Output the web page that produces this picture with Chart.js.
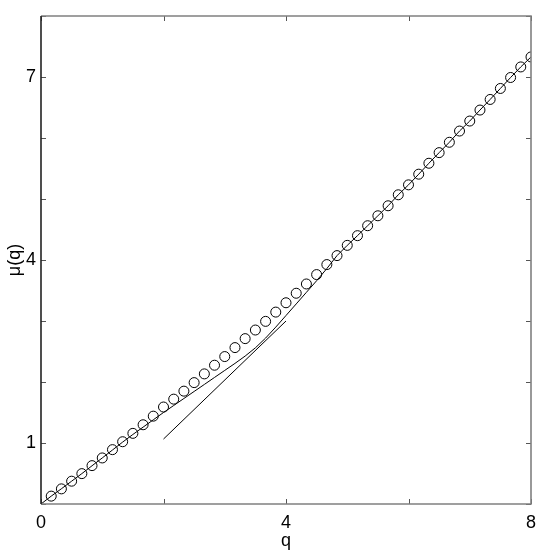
<!DOCTYPE html>
<html>
<head>
<meta charset="utf-8">
<script src="https://cdn.jsdelivr.net/npm/chart.js@4/dist/chart.umd.min.js"></script>
<style>
  html,body{margin:0;padding:0;background:#fff;}
  #wrap{width:545px;height:553px;}
</style>
</head>
<body>
<div id="wrap"><canvas id="chart" width="545" height="553"></canvas></div>
<script>
// ---- DATA ----
const circleQ = [0.167,0.333,0.5,0.667,0.833,1,1.167,1.333,1.5,1.667,1.833,2,2.167,2.333,2.5,2.667,2.833,3,
  3.167,3.333,3.5,3.667,3.833,4,4.167,4.333,4.5,4.667,4.833,5,5.167,5.333,5.5,5.667,5.833,6,
  6.167,6.333,6.5,6.667,6.833,7,7.167,7.333,7.5,7.667,7.833,8];
const circleMu = [0.129,0.248,0.374,0.498,0.629,0.755,0.891,1.021,1.158,1.299,1.44,1.59,1.719,1.85,1.99,2.133,2.275,2.417,
  2.564,2.711,2.852,2.994,3.146,3.299,3.455,3.607,3.761,3.925,4.072,4.24,4.399,4.562,4.725,4.889,5.069,5.232,
  5.407,5.586,5.76,5.93,6.114,6.278,6.458,6.632,6.812,6.992,7.165,7.329];

const fitQ = [0,0.167,0.333,0.5,0.667,0.833,1,1.167,1.333,1.5,1.667,1.833,2,2.167,2.333,2.5,2.667,2.833,3,
  3.167,3.333,3.5,3.667,3.833,4,4.167,4.333,4.5,4.667,4.833,5,5.167,5.333,5.5,5.667,5.833,6,
  6.167,6.333,6.5,6.667,6.833,7,7.167,7.333,7.5,7.667,7.833,8];
const fitMu = [0,0.129,0.25,0.374,0.498,0.627,0.755,0.885,1.015,1.14,1.26,1.38,1.5,1.615,1.73,1.845,1.96,2.075,2.19,
  2.305,2.425,2.56,2.72,2.9,3.09,3.28,3.47,3.66,3.86,4.072,4.24,4.399,4.562,4.725,4.889,5.069,5.232,
  5.407,5.586,5.76,5.93,6.114,6.278,6.458,6.632,6.812,6.992,7.165,7.329];

const slopeQ = [2,4];
const slopeMu = [1.065,3.0];

const xLabels = [0,4,8];
const yLabels = [1,4,7];

const FONT = "'Liberation Sans', Arial, Helvetica, sans-serif";

function pts(xs, ys){ return xs.map((x,i)=>({x:x,y:ys[i]})); }

// ---- FRAME + INNER TICKS ----
const framePlugin = {
  id:'frame',
  afterDraw(chart){
    const {ctx, chartArea:a, scales:{x,y}} = chart;
    const len = 5;
    ctx.save();
    ctx.lineWidth = 1;
    ctx.strokeStyle = '#555';
    ctx.beginPath();
    x.ticks.forEach(t=>{
      const px = Math.round(x.getPixelForValue(t.value))+0.5;
      ctx.moveTo(px,a.bottom); ctx.lineTo(px,a.bottom-len);
      ctx.moveTo(px,a.top); ctx.lineTo(px,a.top+len);
    });
    y.ticks.forEach(t=>{
      const py = Math.round(y.getPixelForValue(t.value))+0.5;
      ctx.moveTo(a.left,py); ctx.lineTo(a.left+len,py);
      ctx.moveTo(a.right,py); ctx.lineTo(a.right-len,py);
    });
    ctx.stroke();

    ctx.lineWidth = 1.6;
    ctx.strokeStyle = '#808080';
    ctx.beginPath();
    ctx.moveTo(a.left,a.top); ctx.lineTo(a.right,a.top); ctx.lineTo(a.right,a.bottom); ctx.lineTo(a.left,a.bottom);
    ctx.stroke();
    ctx.strokeStyle = '#222';
    ctx.beginPath();
    ctx.moveTo(a.left,a.top); ctx.lineTo(a.left,a.bottom);
    ctx.stroke();
    ctx.restore();
  }
};

new Chart(document.getElementById('chart').getContext('2d'), {
  type:'line',
  data:{
    datasets:[
      {
        label:'fit',
        data:pts(fitQ,fitMu),
        borderColor:'#000',
        borderWidth:1,
        pointRadius:0,
        fill:false,
        tension:0
      },
      {
        label:'slope',
        data:pts(slopeQ,slopeMu),
        borderColor:'#000',
        borderWidth:1,
        pointRadius:0,
        fill:false
      },
      {
        label:'mu',
        data:pts(circleQ,circleMu),
        showLine:false,
        pointStyle:'circle',
        pointRadius:5,
        pointBorderWidth:1,
        pointBorderColor:'#000',
        pointBackgroundColor:'rgba(0,0,0,0)'
      }
    ]
  },
  options:{
    responsive:false,
    animation:false,
    devicePixelRatio:1,
    layout:{padding:{top:16,right:14,left:0,bottom:0}},
    plugins:{legend:{display:false},tooltip:{enabled:false}},
    scales:{
      x:{
        type:'linear', min:0, max:8,
        afterFit(s){ s.height = 49; },
        grid:{display:false, drawTicks:false},
        border:{display:false},
        ticks:{
          stepSize:2, padding:8, color:'#000', maxRotation:0,
          font:{family:FONT,size:18},
          callback:v=>xLabels.includes(v)?String(v):''
        },
        title:{display:true,text:'q',color:'#000',font:{family:FONT,size:18},padding:{top:0,bottom:1}}
      },
      y:{
        type:'linear', min:0, max:8,
        afterFit(s){ s.width = 41; },
        grid:{display:false, drawTicks:false},
        border:{display:false},
        ticks:{
          stepSize:1, padding:5, color:'#000',
          font:{family:FONT,size:18},
          callback:v=>yLabels.includes(v)?String(v):''
        },
        title:{display:true,text:'μ(q)',color:'#000',font:{family:FONT,size:18},padding:{top:4,bottom:0}}
      }
    }
  },
  plugins:[framePlugin]
});
</script>
</body>
</html>
